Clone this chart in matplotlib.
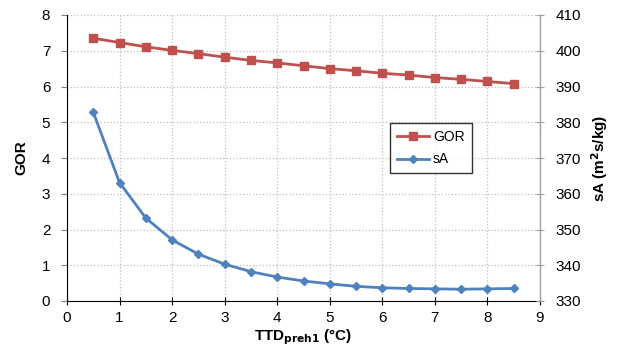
import matplotlib.pyplot as plt
import numpy as np

plt.rcParams['font.family'] = ['Liberation Sans', 'DejaVu Sans']
plt.rcParams['mathtext.default'] = 'regular'

# Data
ttd = [0.5, 1.0, 1.5, 2.0, 2.5, 3.0, 3.5, 4.0, 4.5, 5.0, 5.5, 6.0, 6.5, 7.0, 7.5, 8.0, 8.5]
gor = [7.35, 7.23, 7.11, 7.01, 6.92, 6.82, 6.73, 6.66, 6.58, 6.50, 6.44, 6.37, 6.32, 6.25, 6.20, 6.14, 6.08]
sa = [382.8, 363.1, 353.2, 347.1, 343.1, 340.3, 338.2, 336.7, 335.6, 334.8,
      334.1, 333.7, 333.5, 333.4, 333.3, 333.4, 333.5]

red = '#C0504D'
blue = '#4F81BD'

fig = plt.figure(figsize=(6.17, 3.58), dpi=100)
ax1 = fig.add_axes([67 / 617, 1 - 301 / 358, 473 / 617, 286 / 358])
ax2 = ax1.twinx()

l1, = ax1.plot(ttd, gor, '-s', color=red, linewidth=2, markersize=5.5, label='GOR')
l2, = ax2.plot(ttd, sa, '-D', color=blue, linewidth=2, markersize=4.5, label='sA')

ax1.set_xlim(0, 9)
ax1.set_ylim(0, 8)
ax2.set_ylim(330, 410)
ax1.set_xticks(np.arange(0, 10, 1))
ax1.set_yticks(np.arange(0, 9, 1))
ax2.set_yticks(np.arange(330, 411, 10))

ax1.grid(True, color='#BFBFBF', linestyle=':', linewidth=0.9)
ax1.set_axisbelow(True)

ax1.set_xlabel(r'TTD$_{\mathbf{preh1}}$ (°C)', fontsize=11, fontweight='bold', labelpad=2)
ax1.set_ylabel('GOR', fontsize=11, fontweight='bold', labelpad=10)
ax2.set_ylabel(r'sA (m$^{\mathbf{2}}$s/kg)', fontsize=11, fontweight='bold', labelpad=6)

for ax in (ax1, ax2):
    ax.spines['top'].set_visible(False)
ax1.spines['left'].set_color('black')
ax1.spines['bottom'].set_color('black')
ax2.spines['right'].set_color('#A0A0A0')
ax2.spines['left'].set_visible(False)
ax2.spines['bottom'].set_visible(False)

ax1.tick_params(axis='y', direction='out', length=4, color='#808080', labelsize=11, pad=8)
ax1.tick_params(axis='x', direction='inout', length=6, color='black', labelsize=11, pad=4)
ax2.tick_params(axis='y', direction='inout', length=6, color='#A0A0A0', labelsize=11, pad=8)

leg = ax2.legend(handles=[l1, l2], loc='upper left', bbox_to_anchor=(0.683, 0.622),
                 borderaxespad=0, fontsize=10, frameon=True, fancybox=False,
                 edgecolor='black', handlelength=2.3, handletextpad=0.3,
                 borderpad=0.5, labelspacing=0.6)
leg.get_frame().set_linewidth(1.0)

fig.savefig('out.png', dpi=100)
